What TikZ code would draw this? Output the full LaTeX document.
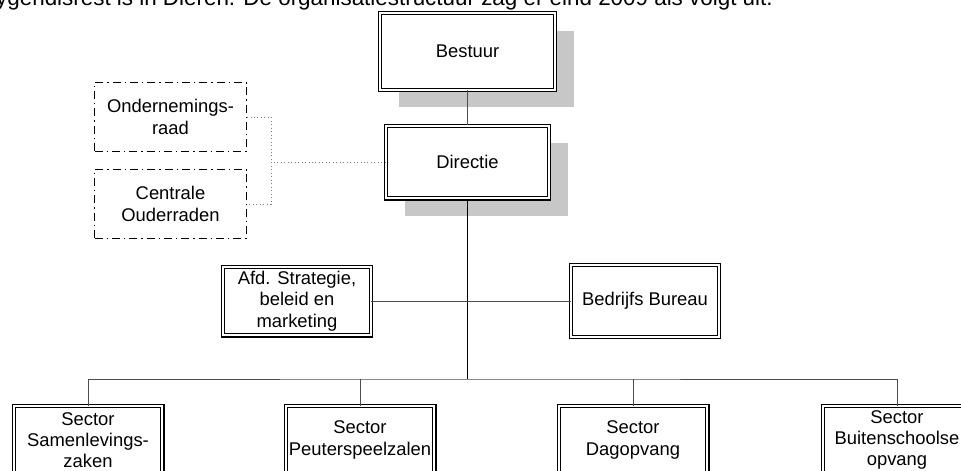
\documentclass[tikz,border=0pt]{standalone}
\usepackage{fontspec}
\setmainfont{Liberation Sans}
\usetikzlibrary{shadows}

\begin{document}
\begin{tikzpicture}[x=0.75pt, y=-0.75pt,
  every node/.style={font=\fontsize{13.8}{16}\selectfont, align=center},
  orgbox/.style={draw, fill=white, line width=0.9pt, double, double distance=1.5pt, inner sep=2pt},
  schaduw/.style={drop shadow={shadow xshift=14.25pt, shadow yshift=-13pt, fill=black!22, opacity=1}},
  raad/.style={draw, line width=0.8pt, dash pattern=on 6pt off 3pt on 1pt off 3pt,
    minimum width=114pt, minimum height=51.7pt, inner sep=2pt},
  lijn/.style={draw=black!70, line width=0.6pt},
  stippel/.style={draw=black!50, line width=0.6pt, dotted}]
\useasboundingbox (0,0) rectangle (961,471);
\clip (0,0) rectangle (961,471);

\node[anchor=base east, inner sep=0pt, font=\fontsize{16.8}{20}\selectfont] (intro) at (773,6)
  {ygendisrest is in Dieren. De organisatiestructuur zag er eind 2009 als volgt uit.};

% bestuur en directie
\node[orgbox, schaduw, minimum width=130.95pt, minimum height=57.45pt] (bestuur) at (467.5,51.5) {Bestuur};
\node[orgbox, schaduw, minimum width=121.95pt, minimum height=54.45pt] (directie) at (467.5,162) {Directie};

% raden
\node[raad] (or) at (170.5,117) {Ondernemings-\\raad};
\node[raad] (cor) at (170.5,204) {Centrale\\Ouderraden};

% staf
\node[orgbox, minimum width=110.7pt, minimum height=51.45pt] (afd) at (297,301) {Afd. Strategie,\\beleid en\\marketing};
\node[orgbox, minimum width=110.7pt, minimum height=53.7pt] (bb) at (645,301) {Bedrijfs Bureau};

% sectoren
\foreach \x/\naam/\tekst in {88/samen/{Sector\\Samenlevings-\\zaken}, 360/peuter/{Sector\\Peuterspeelzalen},
  633/dag/{Sector\\Dagopvang}, 897/bso/{Sector\\Buitenschoolse\\opvang}}
{
\node[orgbox, minimum width=111.45pt, minimum height=50.7pt] (\naam) at (\x,440) {\tekst};
}

\coordinate (bus) at (467.5,379);
\coordinate (knik) at (271,162);

\draw[lijn] (bestuur) -- (directie);
\draw[black, line width=0.7pt] (directie) -- (bus);
\draw[lijn] (afd) -- (bb);
\draw[lijn] (samen.north) |- (bus) -| (bso.north);
\draw[lijn] (peuter.north) -- (peuter.north |- bus);
\draw[lijn] (dag.north) -- (dag.north |- bus);
\draw[stippel] (directie.west) -- (knik);
\draw[stippel] (or.east) -| (knik) |- (cor.east);
\end{tikzpicture}
\end{document}
